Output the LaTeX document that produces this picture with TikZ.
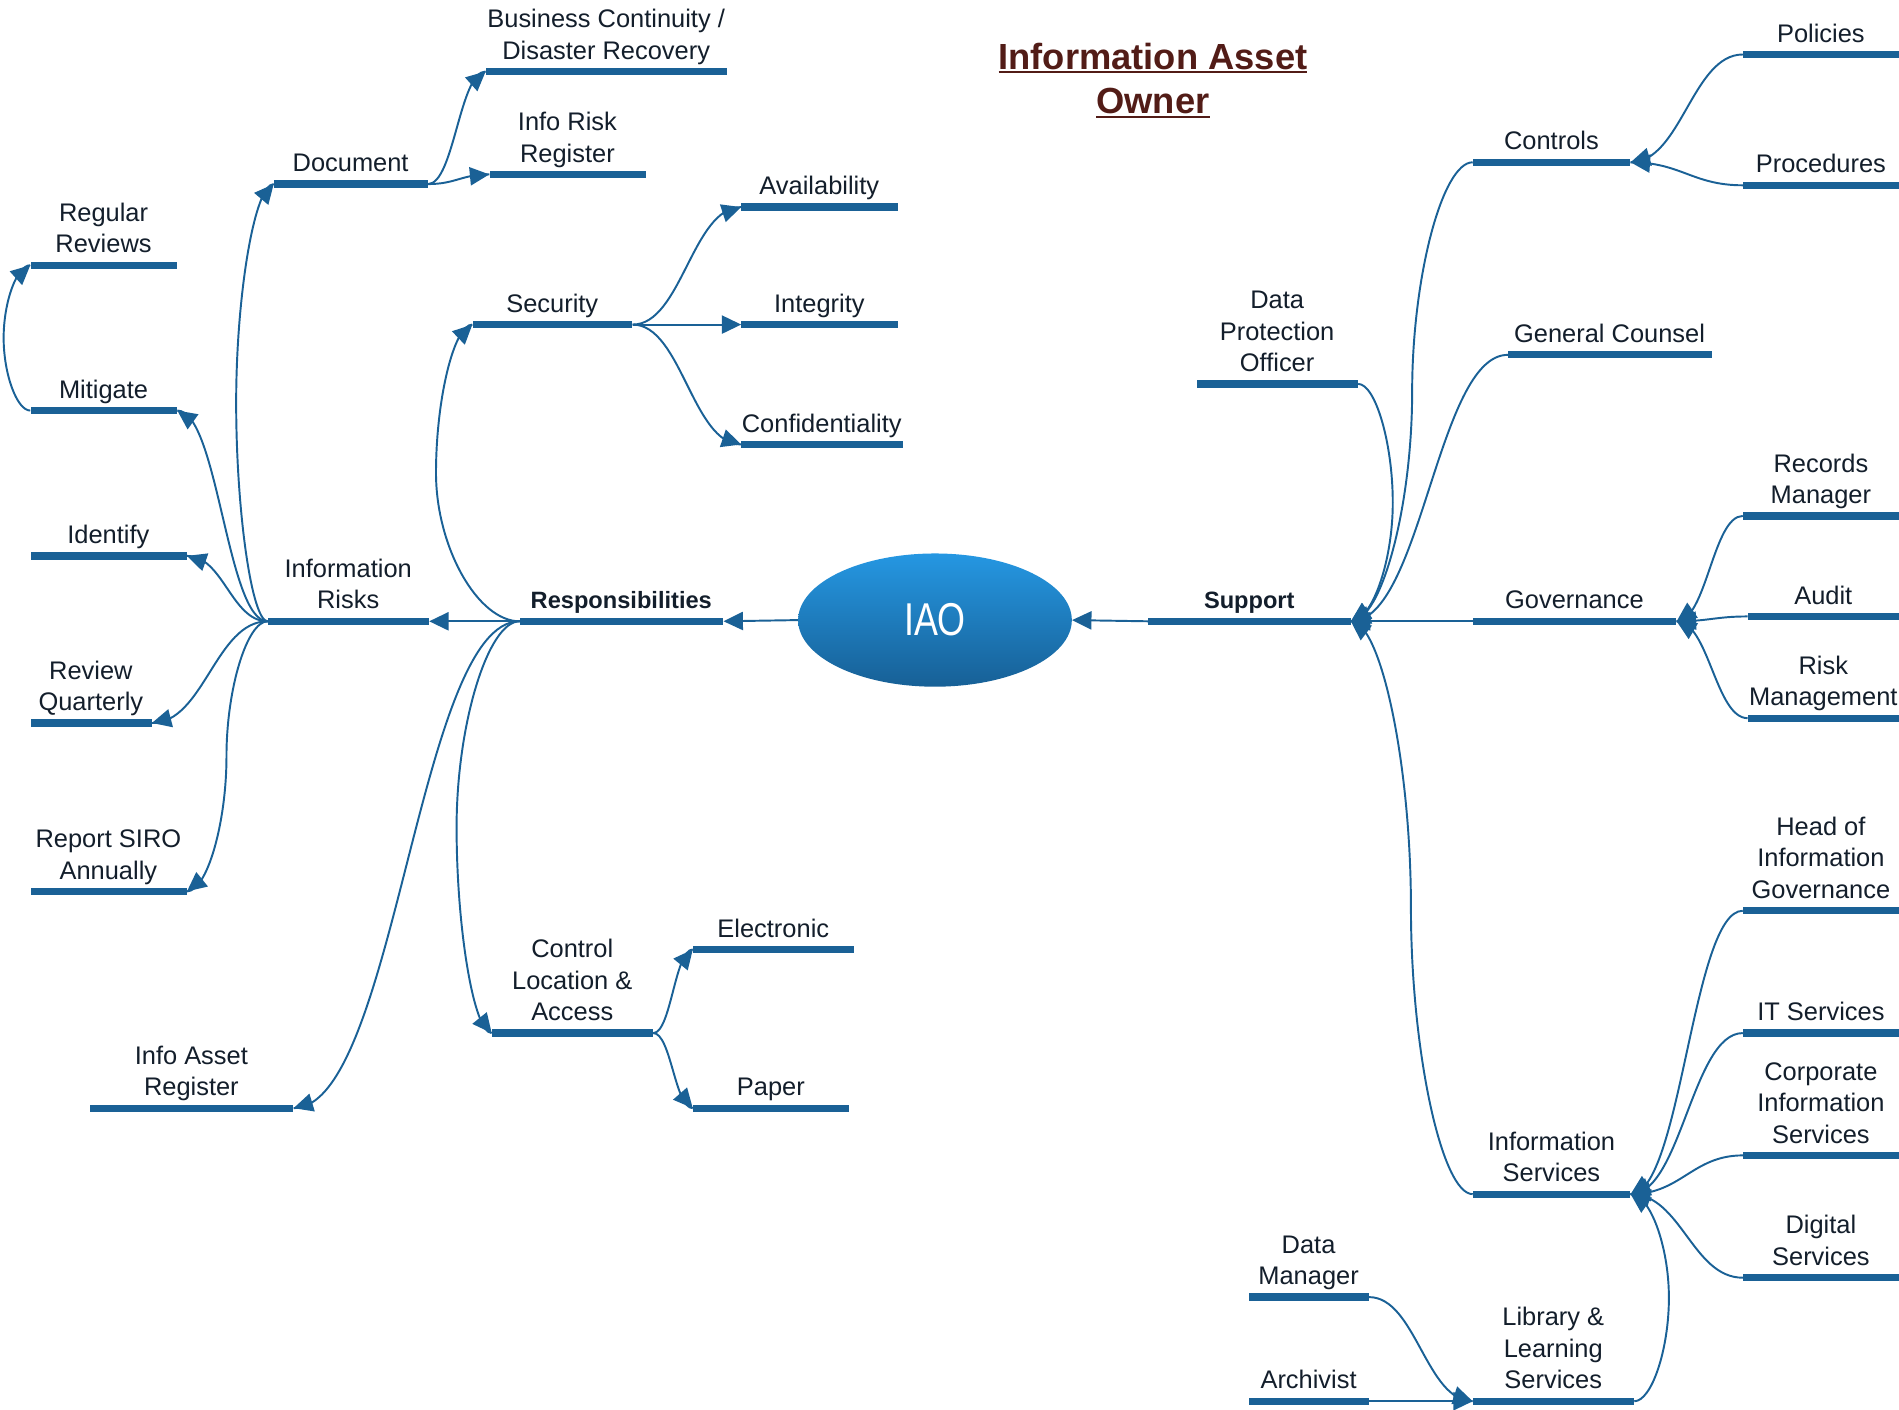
\documentclass[tikz,border=0pt]{standalone}
\usepackage{fontspec}
\setmainfont{Liberation Sans}
\usepackage{graphicx}
\usetikzlibrary{arrows.meta,shapes.geometric,calc,decorations.markings}
\definecolor{lineblue}{RGB}{26,97,150}
\definecolor{txt}{HTML}{131E2B}
\definecolor{titlered}{HTML}{521C17}
\definecolor{iaotop}{RGB}{37,151,226}
\definecolor{iaobot}{RGB}{23,96,150}
\newsavebox\ulbox
\newcommand\myul[1]{\sbox\ulbox{#1}\rlap{\rule[-3.6pt]{\wd\ulbox}{2.2pt}}\usebox\ulbox}
\tikzset{
 barnode/.style={rectangle, fill=lineblue, draw=none, inner sep=0pt, minimum height=6pt, anchor=west},
 lbl/.style={anchor=south, inner sep=0pt, text depth=5pt, align=center, text=txt, font=\fontsize{21}{26}\selectfont, yshift=5pt},
 blbl/.style={lbl, font=\fontsize{19.5}{24}\selectfont\bfseries},
 cline/.style={draw=lineblue, line width=1.6pt},
 conn/.style={cline, -{Triangle[length=16pt,width=15pt]}},
 marktail/.style={postaction={decorate, decoration={markings, mark=at position -16pt with {\coordinate (tailpt);}}}},
 titlestyle/.style={text=titlered, font=\fontsize{30}{37}\selectfont\bfseries, inner sep=0pt, anchor=base},
}
\newcommand\bitem[6][lbl]{\node[barnode, minimum width={#4-#3}] (#2) at (#3,#5) {};
 \node[#1] (#2T) at ({(#3+#4)/2},#5) {#6};}
% connector with a vertical run at x = #3
\newcommand\vconn[3]{\draw[cline, marktail] let \p1=(#1), \p2=(#2), \n1={#3} in (\p1) .. controls ({(\x1+\n1)/2},\y1) and (\n1,{(3*\y1+\y2)/4}) .. (\n1,{(\y1+\y2)/2}) .. controls (\n1,{(\y1+3*\y2)/4}) and ({(\n1+\x2)/2},\y2) .. (\p2);
 \draw[conn] (tailpt) -- (#2);}
% plain S connector
\newcommand\sconn[2]{\draw[cline, marktail] let \p1=(#1), \p2=(#2) in (\p1) .. controls ({\x1+0.45*(\x2-\x1)},\y1) and ({\x2-0.45*(\x2-\x1)},\y2) .. (\p2);
 \draw[conn] (tailpt) -- (#2);}
\begin{document}
\begin{tikzpicture}[x=1pt,y=-1pt]
\useasboundingbox (0,0) rectangle (1568,1164);
% title
\node[titlestyle] (title1) at (952,57) {\myul{Information Asset}};
\node[titlestyle] (title2) at (952,94) {\myul{Owner}};
% centre
\node[ellipse, minimum width=226pt, minimum height=110pt, top color=iaotop, bottom color=iaobot, draw=none, text=white, font=\fontsize{38}{40}\selectfont, inner sep=0pt] (iao) at (772,512) {\scalebox{0.78}[1]{IAO}};
% left side
\bitem{bcdr}{401}{600}{59}{Business Continuity /\\Disaster Recovery}
\bitem{irr}{404}{533}{144}{Info Risk\\Register}
\bitem{doc}{226}{353}{152}{Document}
\bitem{rr}{25}{146}{219}{Regular\\Reviews}
\bitem{mit}{25}{146}{339}{Mitigate}
\bitem{ide}{25}{154}{459}{Identify}
\bitem{ir}{221}{354}{513}{Information\\Risks}
\bitem{rq}{25}{125}{597}{Review\\Quarterly}
\bitem{rsiro}{25}{154}{736}{Report SIRO\\Annually}
\bitem{iar}{74}{242}{915}{Info Asset\\Register}
\bitem{sec}{390}{522}{268}{Security}
\bitem{avail}{612}{741}{171}{Availability}
\bitem{integ}{612}{741}{268}{Integrity}
\bitem{conf}{612}{745}{367}{Confidentiality}
\bitem[blbl]{resp}{429}{597}{513}{Responsibilities}
\bitem{cla}{406}{539}{853}{Control\\Location \&\\Access}
\bitem{elec}{572}{705}{784}{Electronic}
\bitem{paper}{572}{701}{915}{Paper}
% right side
\bitem[blbl]{sup}{948}{1115}{513}{Support}
\bitem{ctrl}{1216}{1346}{134}{Controls}
\bitem{pol}{1439}{1568}{45}{Policies}
\bitem{proc}{1439}{1568}{153}{Procedures}
\bitem{dpo}{988}{1121}{317}{Data\\Protection\\Officer}
\bitem{gc}{1245}{1413}{293}{General Counsel}
\bitem{recm}{1439}{1568}{426}{Records\\Manager}
\bitem{gov}{1216}{1384}{513}{Governance}
\bitem{audit}{1443}{1568}{509}{Audit}
\bitem{risk}{1443}{1568}{593}{Risk\\Management}
\bitem{hig}{1439}{1568}{752}{Head of\\Information\\Governance}
\bitem{its}{1439}{1568}{853}{IT Services}
\bitem{cis}{1439}{1568}{954}{Corporate\\Information\\Services}
\bitem{is}{1216}{1346}{986}{Information\\Services}
\bitem{ds}{1439}{1568}{1055}{Digital\\Services}
\bitem{dm}{1031}{1130}{1071}{Data\\Manager}
\bitem{arch}{1031}{1130}{1157}{Archivist}
\bitem{lls}{1216}{1349}{1157}{Library \&\\Learning\\Services}
% connectors left
\draw[conn] (iao.west) -- (resp.east);
\draw[conn] (sup.west) -- (iao.east);
\draw[conn] (resp.west) -- (ir.east);
\vconn{resp.west}{sec.west}{360}
\vconn{resp.west}{cla.west}{377}
\sconn{resp.west}{iar.east}
\vconn{ir.west}{doc.west}{195}
\sconn{ir.west}{mit.east}
\sconn{ir.west}{ide.east}
\sconn{ir.west}{rq.east}
\vconn{ir.west}{rsiro.east}{187}
\vconn{mit.west}{rr.west}{3}
\sconn{doc.east}{bcdr.west}
\sconn{doc.east}{irr.west}
\sconn{sec.east}{avail.west}
\draw[conn] (sec.east) -- (integ.west);
\sconn{sec.east}{conf.west}
\sconn{cla.east}{elec.west}
\sconn{cla.east}{paper.west}
% connectors right
\vconn{ctrl.west}{sup.east}{1166}
\vconn{dpo.east}{sup.east}{1150}
\sconn{gc.west}{sup.east}
\draw[conn] (gov.west) -- (sup.east);
\vconn{is.west}{sup.east}{1165}
\sconn{pol.west}{ctrl.east}
\sconn{proc.west}{ctrl.east}
\sconn{recm.west}{gov.east}
\sconn{audit.west}{gov.east}
\sconn{risk.west}{gov.east}
\sconn{hig.west}{is.east}
\sconn{its.west}{is.east}
\sconn{cis.west}{is.east}
\sconn{ds.west}{is.east}
\vconn{lls.east}{is.east}{1378}
\sconn{dm.east}{lls.west}
\draw[conn] (arch.east) -- (lls.west);
\end{tikzpicture}
\end{document}
